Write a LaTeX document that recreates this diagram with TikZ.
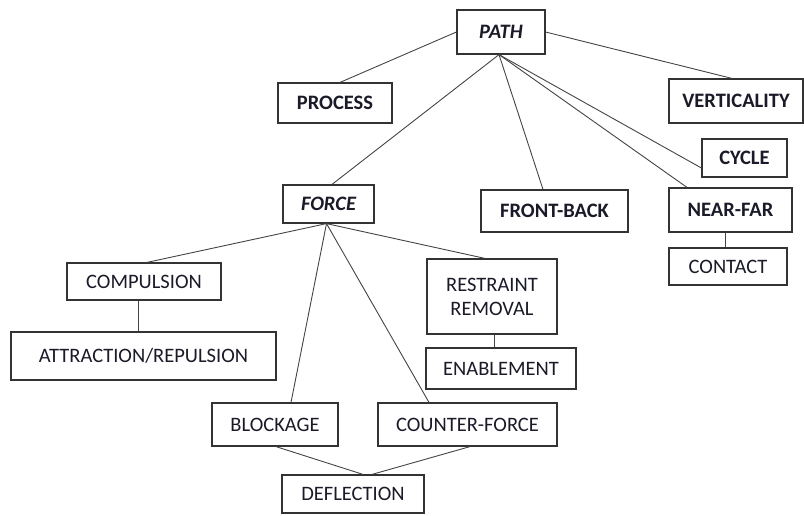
\documentclass[tikz,border=0pt]{standalone}
\usepackage{fontspec}
\setmainfont{Carlito}
\usetikzlibrary{calc}
\definecolor{boxline}{HTML}{333333}
\definecolor{linkline}{HTML}{444444}
\definecolor{labeltext}{HTML}{1A1A28}
\begin{document}
\begin{tikzpicture}[x=1pt,y=-1pt,
  concept/.style={draw=boxline, line width=1.2pt, fill=white, inner sep=0pt,
    text=labeltext, font=\fontsize{20.5}{24}\selectfont, align=center},
  main/.style={concept, font=\fontsize{20.5}{24}\selectfont\bfseries},
  mainit/.style={concept, font=\fontsize{20.5}{24}\selectfont\bfseries\itshape},
  link/.style={draw=linkline, line width=0.9pt}]
\useasboundingbox (0,0) rectangle (804,515);

% top level
\node[mainit, minimum width=88pt,  minimum height=44pt] (path)     at (501,32)    {PATH};
\node[main,   minimum width=114pt, minimum height=40pt] (process)  at (335,103)   {PROCESS};
\node[main,   minimum width=134pt, minimum height=44pt] (vert)     at (736,101)   {VERTICALITY};
\node[main,   minimum width=85pt,  minimum height=38pt] (cycle)    at (744.5,158) {CYCLE};
\node[main,   minimum width=123pt, minimum height=44pt] (nearfar)  at (730.5,210) {NEAR-FAR};
\node[concept,minimum width=118pt, minimum height=37pt] (contact)  at (728,266.5) {CONTACT};
\node[mainit, minimum width=91pt,  minimum height=38pt] (force)    at (328.5,204) {FORCE};
\node[main,   minimum width=147pt, minimum height=42pt] (frontback) at (554.5,211) {FRONT-BACK};

% force family
\node[concept,minimum width=154pt, minimum height=37pt] (compulsion) at (144,281.5) {COMPULSION};
\node[concept,minimum width=265pt, minimum height=48pt] (attraction) at (143.5,356) {ATTRACTION/REPULSION};
\node[concept,minimum width=130pt, minimum height=75pt] (restraint)  at (492,296.5) {RESTRAINT\\REMOVAL};
\node[concept,minimum width=150pt, minimum height=41pt] (enable)     at (501,368.5) {ENABLEMENT};
\node[concept,minimum width=126pt, minimum height=43pt] (blockage)   at (275,424.5) {BLOCKAGE};
\node[concept,minimum width=179pt, minimum height=43pt] (counter)    at (467.5,424.5) {COUNTER-FORCE};
\node[concept,minimum width=142pt, minimum height=38pt] (deflect)    at (353,494)   {DEFLECTION};

% links from PATH
\coordinate (pathfoot) at ([xshift=-2pt]path.south);
\draw[link] (path.west) -- ([xshift=5pt]process.north);
\draw[link] (path.east) -- ([xshift=-4pt]vert.north);
\draw[link] (pathfoot) -- ([xshift=3.5pt]force.north);
\draw[link] (pathfoot) -- ([xshift=-11.5pt]frontback.north);
\draw[link] (pathfoot) -- ([yshift=-10pt]cycle.west);
\draw[link] (pathfoot) -- ([xshift=-43.5pt]nearfar.north);
\draw[link] ([xshift=-5.5pt]nearfar.south) -- ([xshift=-5.5pt]nearfar.south |- contact.north);

% links from FORCE
\coordinate (forcefoot) at ([xshift=-2pt]force.south);
\draw[link] (forcefoot) -- ([xshift=3pt]compulsion.north);
\draw[link] ([xshift=-6pt]compulsion.south) -- ([xshift=-6pt]compulsion.south |- attraction.north);
\draw[link] (forcefoot) -- ([xshift=-7pt]restraint.north);
\draw[link] ([xshift=2pt]restraint.south) -- ([xshift=2pt]restraint.south |- enable.north);
\draw[link] (forcefoot) -- ([xshift=16pt]blockage.north);
\draw[link] (forcefoot) -- ([xshift=-38.5pt]counter.north);
\draw[link] ([xshift=1pt]blockage.south) -- ([xshift=10pt]deflect.north);
\draw[link] ([xshift=2.5pt]counter.south) -- ([xshift=19pt]deflect.north);
\end{tikzpicture}
\end{document}
